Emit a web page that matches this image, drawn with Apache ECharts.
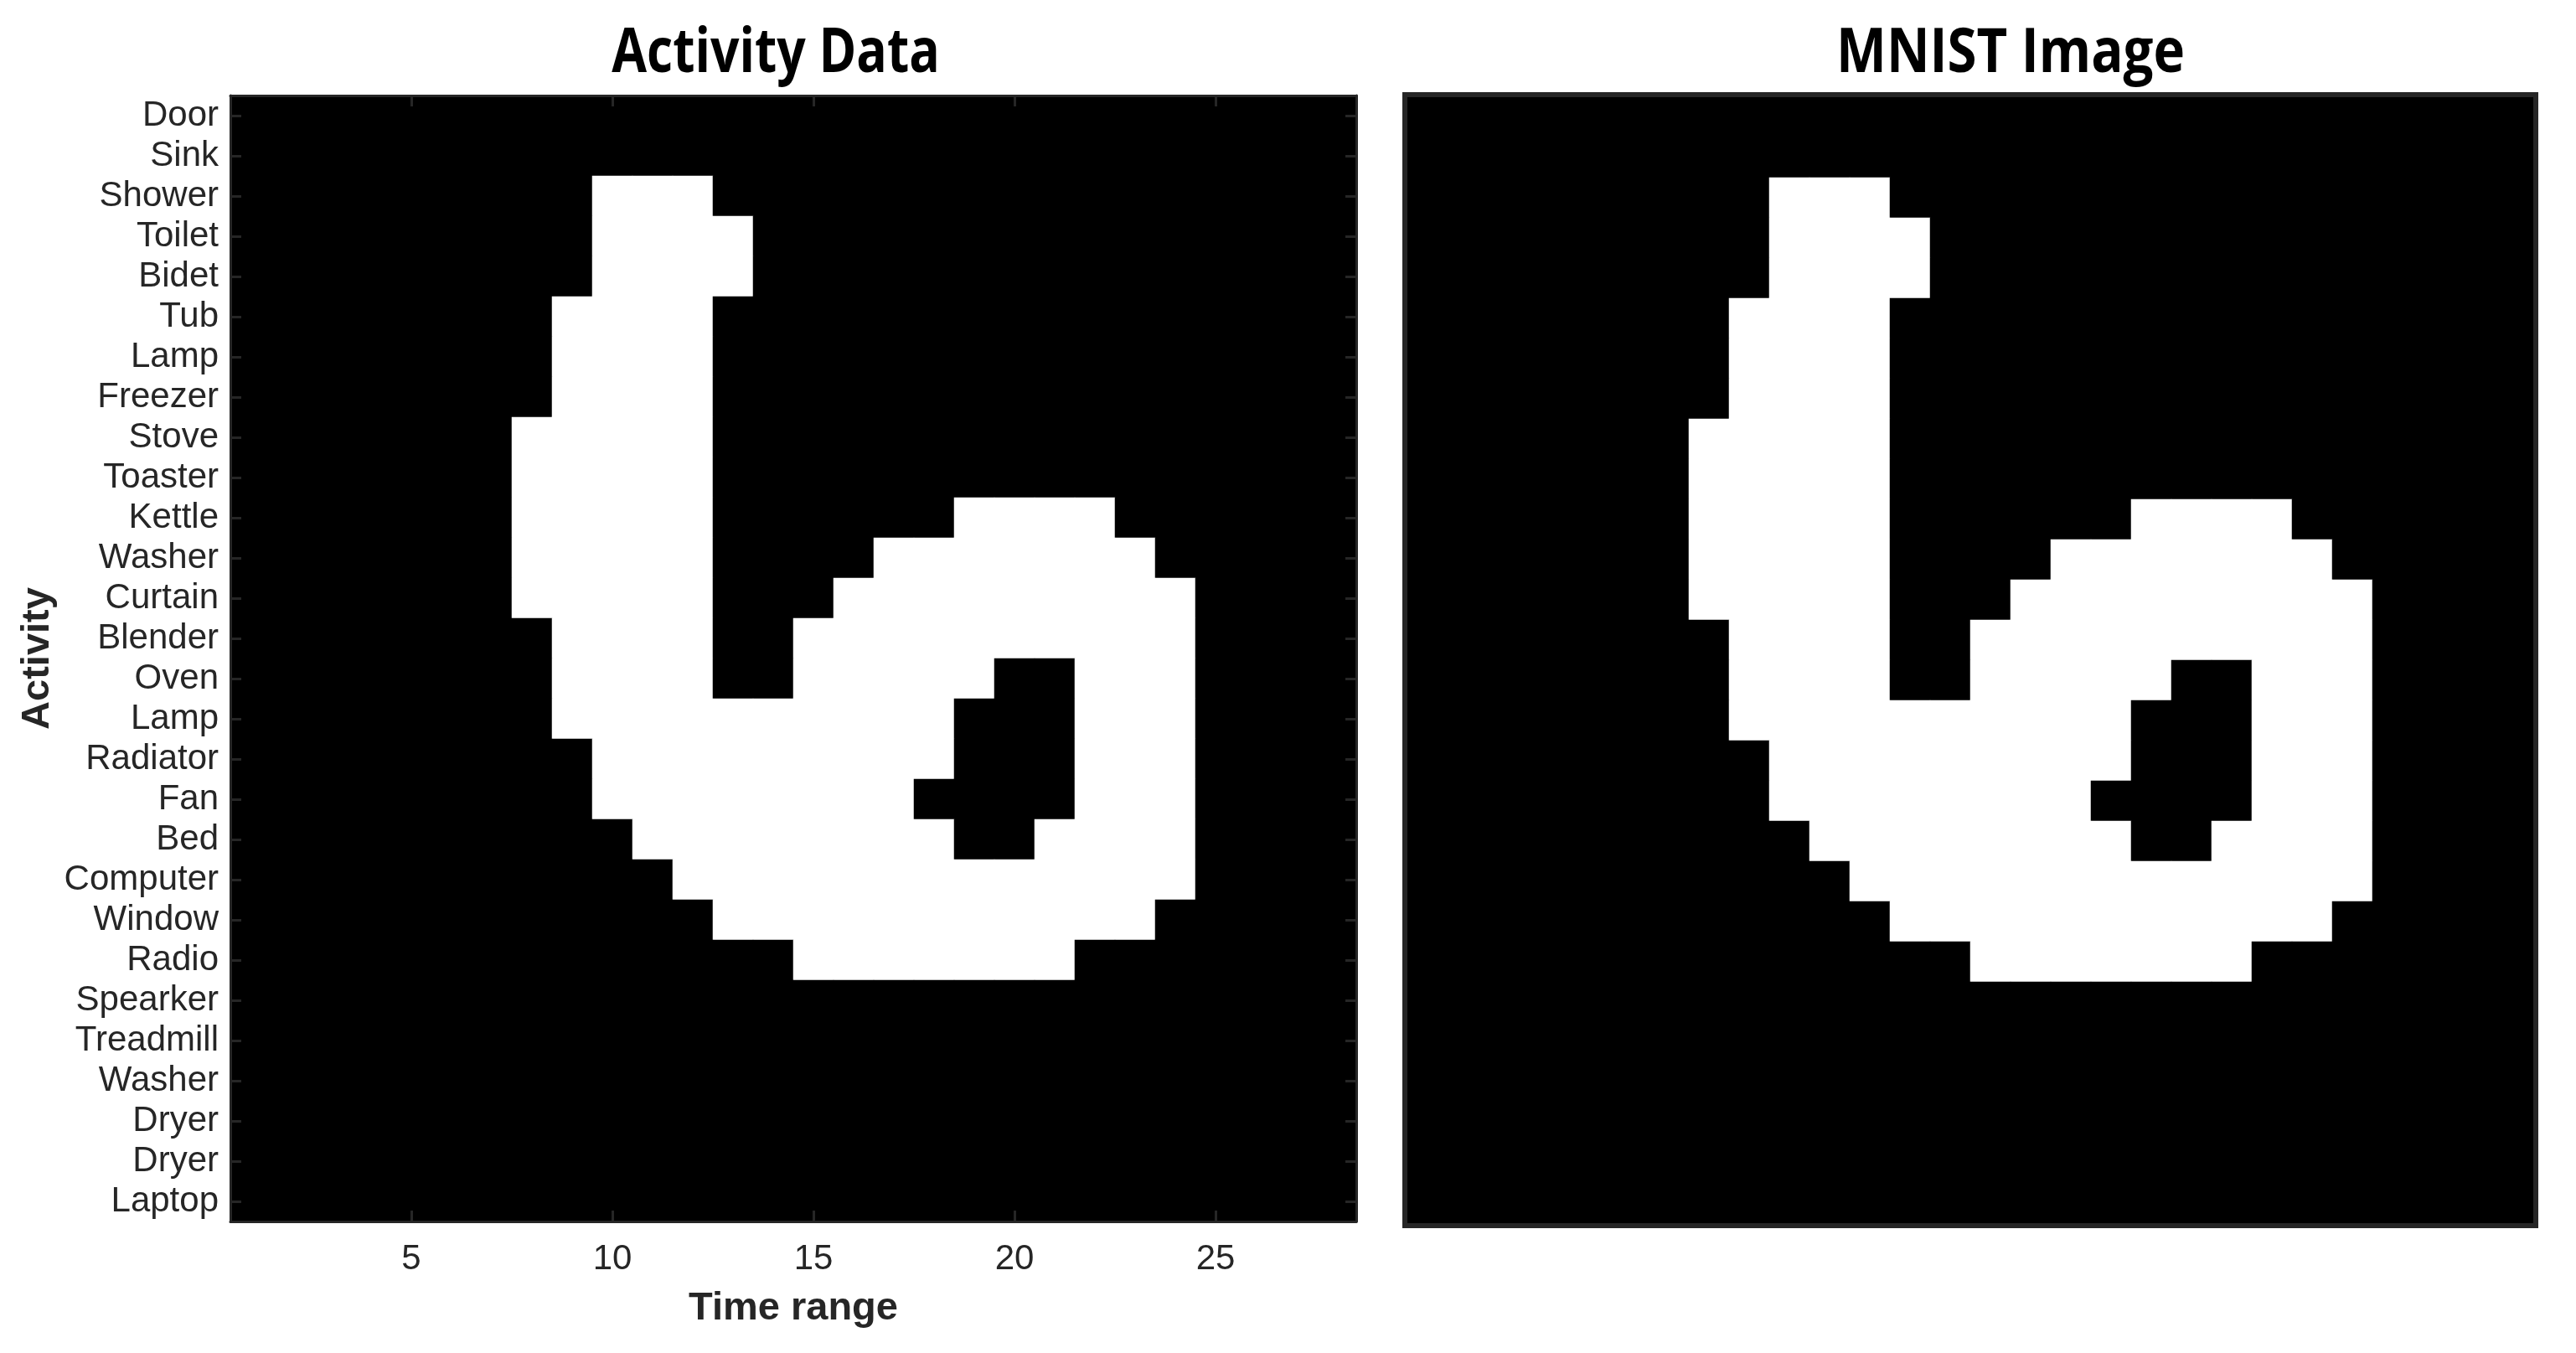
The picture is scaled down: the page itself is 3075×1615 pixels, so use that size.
<!DOCTYPE html>
<html>
<head>
<meta charset="utf-8">
<script src="https://cdn.jsdelivr.net/npm/echarts@6/dist/echarts.min.js"></script>
<style>
html,body{margin:0;padding:0;background:#ffffff;}
#chart{width:3075px;height:1615px;}
</style>
</head>
<body>
<div id="chart"></div>
<script>
// ---- data ----
const activities = ['Door','Sink','Shower','Toilet','Bidet','Tub','Lamp','Freezer','Stove','Toaster',
  'Kettle','Washer','Curtain','Blender','Oven','Lamp','Radiator','Fan','Bed','Computer',
  'Window','Radio','Spearker','Treadmill','Washer','Dryer','Dryer','Laptop'];
const timeSlots = ['1','2','3','4','5','6','7','8','9','10','11','12','13','14',
  '15','16','17','18','19','20','21','22','23','24','25','26','27','28'];
const timeTicks = ['5','10','15','20','25'];
// one string per activity row (top to bottom), one character per time slot: 1 = active (white)
const pixelRows = [
  '0000000000000000000000000000',
  '0000000000000000000000000000',
  '0000000001110000000000000000',
  '0000000001111000000000000000',
  '0000000001111000000000000000',
  '0000000011110000000000000000',
  '0000000011110000000000000000',
  '0000000011110000000000000000',
  '0000000111110000000000000000',
  '0000000111110000000000000000',
  '0000000111110000001111000000',
  '0000000111110000111111100000',
  '0000000111110001111111110000',
  '0000000011110011111111110000',
  '0000000011110011111001110000',
  '0000000011111111110001110000',
  '0000000001111111110001110000',
  '0000000001111111100001110000',
  '0000000000111111110011110000',
  '0000000000011111111111110000',
  '0000000000001111111111100000',
  '0000000000000011111110000000',
  '0000000000000000000000000000',
  '0000000000000000000000000000',
  '0000000000000000000000000000',
  '0000000000000000000000000000',
  '0000000000000000000000000000',
  '0000000000000000000000000000'
];

// ---- build ----
const cells = [];
pixelRows.forEach(function (row, r) {
  for (let c = 0; c < row.length; c++) cells.push([c, r, Number(row[c])]);
});

const axisColor = '#262626';
const labelFont = '"Liberation Sans", Arial, sans-serif';
const isTick = function (idx, val) { return timeTicks.indexOf(String(val)) >= 0; };

const lineStyle = { color: axisColor, width: 3 };
const tickStyle = { show: true, inside: true, length: 13, alignWithLabel: true, lineStyle: { color: axisColor, width: 3 } };

const chart = echarts.init(document.getElementById('chart'), null, { renderer: 'canvas' });
chart.setOption({
  backgroundColor: '#ffffff',
  animation: false,
  grid: [
    { left: 275, top: 114, width: 1344, height: 1344, containLabel: false },
    { left: 1680, top: 116, width: 1344, height: 1344, containLabel: false }
  ],
  xAxis: [
    {
      gridIndex: 0, type: 'category', data: timeSlots, position: 'bottom', z: 10,
      axisLine: { show: true, lineStyle: lineStyle },
      axisTick: Object.assign({}, tickStyle, { interval: isTick }),
      axisLabel: { interval: isTick, fontSize: 42, color: axisColor, fontFamily: labelFont, margin: 24 },
      splitLine: { show: false },
      name: 'Time range', nameLocation: 'middle', nameGap: 81,
      nameTextStyle: { fontSize: 47, fontWeight: 'bold', color: axisColor, fontFamily: labelFont }
    },
    {
      gridIndex: 0, type: 'category', data: timeSlots, position: 'top', z: 10,
      axisLine: { show: true, lineStyle: lineStyle },
      axisTick: Object.assign({}, tickStyle, { interval: isTick }),
      axisLabel: { show: false }, splitLine: { show: false }
    },
    { gridIndex: 1, type: 'category', data: timeSlots, show: false }
  ],
  yAxis: [
    {
      gridIndex: 0, type: 'category', data: activities, inverse: true, position: 'left', z: 10,
      axisLine: { show: true, lineStyle: lineStyle },
      axisTick: Object.assign({}, tickStyle, { interval: 0 }),
      axisLabel: { interval: 0, fontSize: 42, color: axisColor, fontFamily: labelFont, margin: 14, padding: [6, 0, 0, 0] },
      splitLine: { show: false },
      name: 'Activity', nameLocation: 'middle', nameGap: 206, nameRotate: 90,
      nameTextStyle: { fontSize: 47, fontWeight: 'bold', color: axisColor, fontFamily: labelFont }
    },
    {
      gridIndex: 0, type: 'category', data: activities, inverse: true, position: 'right', z: 10,
      axisLine: { show: true, lineStyle: lineStyle },
      axisTick: Object.assign({}, tickStyle, { interval: 0 }),
      axisLabel: { show: false }, splitLine: { show: false }
    },
    { gridIndex: 1, type: 'category', data: activities, inverse: true, show: false }
  ],
  visualMap: {
    type: 'piecewise', show: false, dimension: 2, seriesIndex: [0, 1],
    pieces: [{ value: 0, color: '#000000' }, { value: 1, color: '#ffffff' }]
  },
  series: [
    { type: 'heatmap', xAxisIndex: 0, yAxisIndex: 0, data: cells, emphasis: { disabled: true }, progressive: 0 },
    { type: 'heatmap', xAxisIndex: 2, yAxisIndex: 2, data: cells, emphasis: { disabled: true }, progressive: 0 }
  ],
  graphic: [
    { type: 'text', x: 926, y: 65, scaleX: 0.83, z: 100,
      style: { text: 'Activity Data', fill: '#000000', fontSize: 73, fontWeight: 'bold', fontFamily: '"Open Sans", sans-serif', align: 'center', verticalAlign: 'middle' } },
    { type: 'text', x: 2400, y: 65, scaleX: 0.87, z: 100,
      style: { text: 'MNIST Image', fill: '#000000', fontSize: 73, fontWeight: 'bold', fontFamily: '"Open Sans", sans-serif', align: 'center', verticalAlign: 'middle' } },
    { type: 'rect', z: 100, silent: true,
      shape: { x: 1677, y: 113, width: 1350, height: 1350 },
      style: { fill: null, stroke: axisColor, lineWidth: 6 } }
  ]
});
</script>
</body>
</html>
